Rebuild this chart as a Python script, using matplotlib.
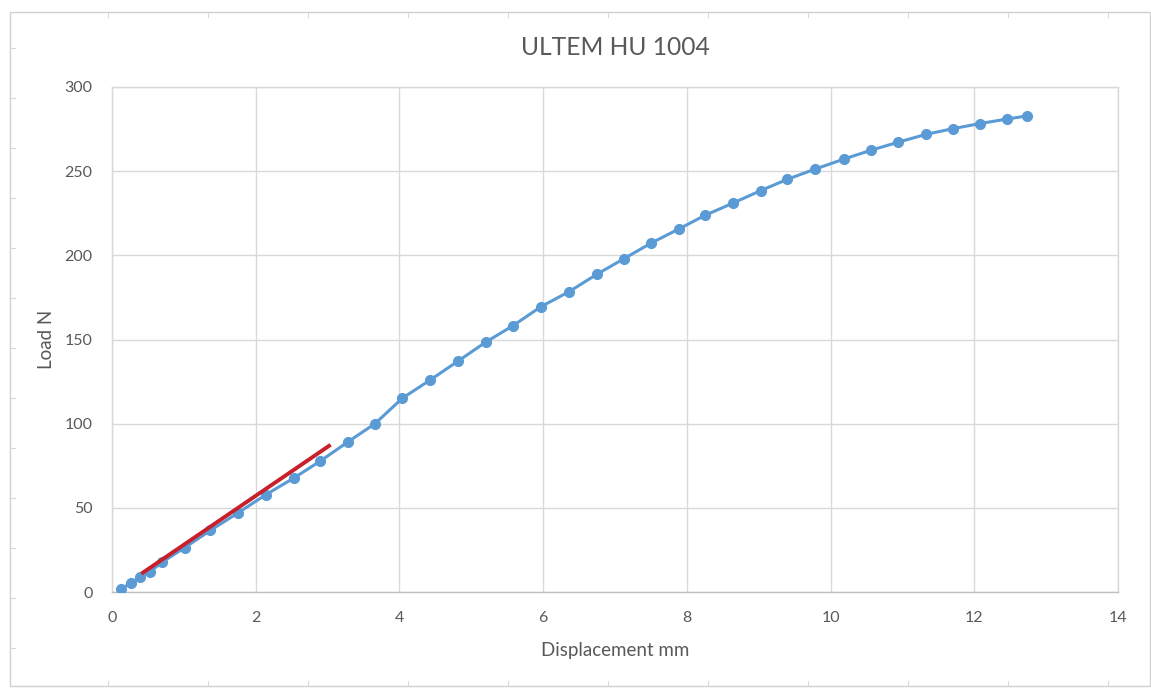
import matplotlib.pyplot as plt
from matplotlib.patches import Rectangle
from matplotlib.lines import Line2D

# measured points (displacement mm, load N)
displacement = [0.125, 0.264, 0.39, 0.53, 0.70, 1.01, 1.37, 1.76, 2.14, 2.53, 2.90, 3.28,
                3.66, 4.04, 4.43, 4.82, 5.20, 5.58, 5.97, 6.36, 6.75, 7.12, 7.50, 7.89,
                8.25, 8.64, 9.03, 9.40, 9.79, 10.18, 10.56, 10.94, 11.33, 11.71, 12.08,
                12.46, 12.73]
load = [1.6, 5.5, 8.7, 12.1, 17.8, 26.3, 36.6, 47.2, 57.8, 67.7, 77.8, 89.1,
        100.0, 115.1, 126.0, 137.3, 148.4, 158.2, 169.5, 178.4, 188.8, 197.9, 207.2, 215.7,
        223.7, 231.0, 238.5, 245.2, 251.3, 257.1, 262.4, 267.2, 271.9, 275.3, 278.3,
        281.0, 282.8]

# linear fit drawn over the elastic part
fit_x = [0.43, 3.02]
fit_y = [11.5, 86.8]

x_ticks = [0, 2, 4, 6, 8, 10, 12, 14]
y_ticks = [0, 50, 100, 150, 200, 250, 300]

plt.rcParams['font.family'] = ['Lato', 'DejaVu Sans']

fig = plt.figure(figsize=(11.51, 6.88), dpi=100)
W, H = 1151, 688

# outer chart frame
fig.patches.append(Rectangle((10 / W, 1 - 686 / H), 1140 / W, 674 / H,
                             transform=fig.transFigure, fill=False,
                             edgecolor='#d0d0d0', linewidth=1))
for px in range(108, 1150, 100):
    fig.lines.append(Line2D([px / W, px / W], [1 - 12 / H, 1 - 17 / H],
                            transform=fig.transFigure, color='#d8d8d8', lw=0.8))
    fig.lines.append(Line2D([px / W, px / W], [1 - 686 / H, 1 - 681 / H],
                            transform=fig.transFigure, color='#d8d8d8', lw=0.8))
for py in range(48, 686, 50):
    fig.lines.append(Line2D([10 / W, 15 / W], [1 - py / H, 1 - py / H],
                            transform=fig.transFigure, color='#d8d8d8', lw=0.8))

ax = fig.add_axes([112 / W, 1 - 592 / H, 1006 / W, 505 / H])

ax.plot(displacement, load, color='#5B9BD5', linewidth=2.2, marker='o',
        markersize=7, markerfacecolor='#5B9BD5', markeredgecolor='#5B9BD5', zorder=3)
ax.plot(fit_x, fit_y, color='#C8202B', linewidth=2.8, zorder=4)

ax.set_xlim(0, 14)
ax.set_ylim(0, 300)
ax.set_xticks(x_ticks)
ax.set_yticks(y_ticks)
ax.grid(True, color='#d9d9d9', linewidth=1)
ax.set_axisbelow(True)
for s in ax.spines.values():
    s.set_color('#d9d9d9')
    s.set_linewidth(1)
ax.spines['bottom'].set_color('#bfbfbf')
ax.tick_params(length=0, labelsize=11.5, colors='#595959', pad=14)
ax.tick_params(axis='y', pad=14)

ax.set_title('ULTEM HU 1004', fontsize=17.7, color='#595959', pad=23)
ax.set_xlabel('Displacement mm', fontsize=13.5, color='#595959', labelpad=12)
ax.set_ylabel('Load N', fontsize=13.5, color='#595959', labelpad=7)

fig.savefig('out.png', dpi=100)
